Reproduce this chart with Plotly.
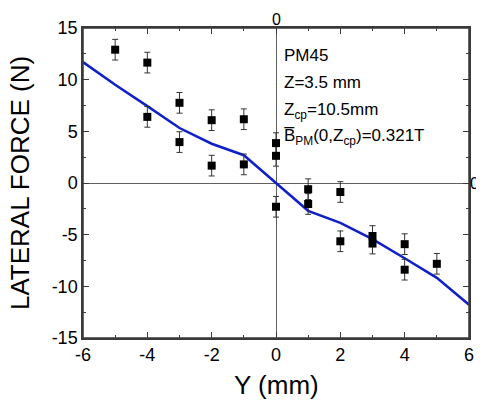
import plotly.graph_objects as go

# Measured data (Y in mm, lateral force in N)
y_pos = [-5, -4, -4, -3, -3, -2, -2, -1, -1, 0, 0, 0, 1, 1, 2, 2, 3, 3, 4, 4, 5]
force = [12.9, 11.65, 6.4, 7.76, 3.96, 6.08, 1.68, 6.17, 1.8, 3.86, 2.63, -2.3,
         -0.6, -2.03, -0.87, -5.64, -5.13, -5.86, -5.92, -8.39, -7.82]
force_err = [1.0] * len(force)

# Calculated curve
calc_y = [-6, -5, -4, -3, -2, -1, 0, 1, 2, 3, 4, 5, 6]
calc_force = [11.7, 9.5, 7.44, 5.32, 3.8, 2.69, 0.0, -2.69, -3.86, -5.44, -7.28, -9.18, -11.78]

x_ticks = [-6, -4, -2, 0, 2, 4, 6]
y_ticks = [-15, -10, -5, 0, 5, 10, 15]

FONT = "Liberation Sans, Arial, sans-serif"
FRAME = "#3a3a3a"

fig = go.Figure()

fig.add_trace(go.Scatter(
    x=calc_y, y=calc_force, mode="lines",
    line=dict(color="#1020c8", width=2.5),
    showlegend=False, hoverinfo="skip"))

fig.add_trace(go.Scatter(
    x=y_pos, y=force, mode="markers",
    marker=dict(symbol="square", size=8, color="black"),
    error_y=dict(type="data", array=force_err, visible=True,
                 color="#333333", thickness=1, width=3),
    showlegend=False))

axis_common = dict(
    showline=True, linecolor=FRAME, linewidth=1.5, mirror="allticks",
    ticks="inside", ticklen=6, tickwidth=1.2, tickcolor=FRAME,
    showgrid=False, zeroline=True, zerolinecolor="#606060", zerolinewidth=1,
    tickfont=dict(family=FONT, size=18, color="black"),
    ticklabelstandoff=0,
)

fig.update_xaxes(
    range=[-6, 6], tickmode="array", tickvals=x_ticks,
    ticktext=[str(v) for v in x_ticks],
    minor=dict(ticks="inside", ticklen=3, dtick=1, tickcolor=FRAME, tickwidth=1),
    **axis_common)
fig.update_yaxes(
    range=[-15, 15], tickmode="array", tickvals=y_ticks,
    ticktext=[str(v) for v in y_ticks],
    minor=dict(ticks="inside", ticklen=3, dtick=2.5, tickcolor=FRAME, tickwidth=1),
    **axis_common)

# plot frame
fig.add_shape(type="rect", xref="paper", yref="paper", x0=0, x1=1, y0=0, y1=1,
              line=dict(color=FRAME, width=1.5), layer="above")

title_font = dict(family=FONT, size=26, color="black")
fig.add_annotation(x=0.5, y=-0.153, xref="paper", yref="paper", text="Y (mm)",
                   showarrow=False, xanchor="center", yanchor="middle", font=title_font)
fig.add_annotation(x=-0.163, y=0.5, xref="paper", yref="paper", text="LATERAL FORCE (N)",
                   showarrow=False, xanchor="center", yanchor="middle", textangle=-90,
                   font=title_font)

text_font = dict(family=FONT, size=17, color="black")
lines = [
    ("PM45", 12.3),
    ("Z=3.5 mm", 9.74),
    ("Z<sub>cp</sub>=10.5mm", 7.0),
    ("B\u0305<sub>PM</sub>(0,Z<sub>cp</sub>)=0.321T", 4.5),
]
for txt, yv in lines:
    fig.add_annotation(x=0.2, y=yv, xref="x", yref="y", text=txt, showarrow=False,
                       xanchor="left", yanchor="middle", font=text_font)

# "0" labels of the axes through the origin
fig.add_annotation(x=0, y=1, xref="x", yref="paper", text="0", showarrow=False,
                   xanchor="center", yanchor="bottom", yshift=-2,
                   font=dict(family=FONT, size=16, color="black"))
fig.add_annotation(x=1, y=0, xref="paper", yref="y", text="0", showarrow=False,
                   xanchor="left", yanchor="middle", xshift=-1,
                   font=dict(family=FONT, size=16, color="black"))

# the page body adds an 8px offset; size the figure to compensate
fig.update_layout(
    width=476, height=397,
    margin=dict(l=75, r=10, t=15, b=67),
    paper_bgcolor="white", plot_bgcolor="white",
    font=dict(family=FONT),
)

fig.write_html("out.html")
